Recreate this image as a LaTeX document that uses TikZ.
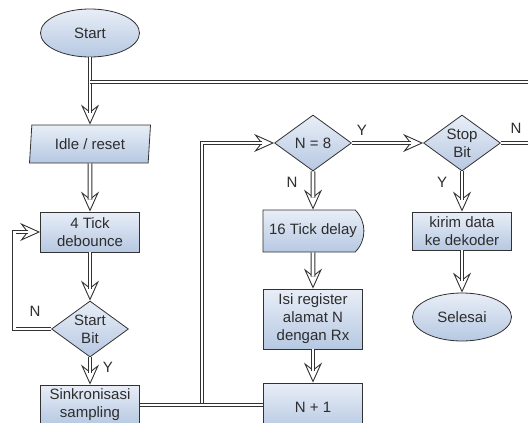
\documentclass[tikz,border=0pt]{standalone}
\usepackage{fontspec}
\setmainfont{Liberation Sans}
\usetikzlibrary{arrows.meta, shapes.geometric, shapes.misc}

\definecolor{boxtop}{RGB}{232,238,247}
\definecolor{boxbot}{RGB}{182,200,226}
\definecolor{edgegray}{RGB}{50,50,50}
\definecolor{textgray}{RGB}{45,45,45}

\tikzset{
  base/.style={draw=edgegray, line width=0.8pt, top color=boxtop, bottom color=boxbot,
    text=textgray, font=\fontsize{15}{18}\selectfont, align=center, inner sep=0pt},
  process/.style={base, rectangle, minimum width=99pt, minimum height=40pt},
  terminal/.style={base, ellipse, minimum width=99pt, minimum height=48pt},
  decision/.style={base, diamond, aspect=1.4, minimum width=77pt, minimum height=56pt},
  io/.style={base, trapezium, trapezium left angle=78, trapezium right angle=102,
    trapezium stretches body, minimum width=121pt, minimum height=38pt},
  delaybox/.style={base, rounded rectangle, rounded rectangle left arc=none,
    rounded rectangle arc length=90, minimum width=101pt, minimum height=42pt},
  flow/.style={draw=edgegray, double=white, double distance=2.8pt, line width=0.9pt},
  flowarrow/.style={draw=edgegray, line width=0.9pt,
    -{Stealth[open, fill=white, length=20pt, width=18pt, inset=7pt]},
    postaction={flow, -, shorten >=12pt}},
  lbl/.style={text=textgray, font=\fontsize{15}{18}\selectfont}
}

\begin{document}
\begin{tikzpicture}[x=1pt, y=-1pt]
  \useasboundingbox (0,0) rectangle (528,423);
  \clip (0,0) rectangle (528,423);

  % left column
  \node[terminal] (start) at (90,33) {Start};
  \node[io] (idle) at (90,144) {Idle / reset};
  \node[process] (tick) at (90,232) {4 Tick\\debounce};
  \node[decision] (sbit) at (90,329) {Start\\Bit};
  \node[process] (sync) at (90,405) {Sinkronisasi\\sampling};

  % middle column
  \node[decision] (neq) at (313,143) {N = 8};
  \node[delaybox] (delay) at (313,231) {16 Tick delay};
  \node[process, minimum height=60pt] (isi) at (313,319) {Isi register\\alamat N\\dengan Rx};
  \node[process, minimum height=48pt] (inc) at (313,407) {N + 1};

  % right column
  \node[decision] (stop) at (462,143) {Stop\\Bit};
  \node[process, minimum height=38pt] (kirim) at (462,231) {kirim data\\ke dekoder};
  \node[terminal] (done) at (462,317) {Selesai};

  \coordinate (topout) at (528,82);
  \coordinate (stopout) at (528,143);
  \coordinate (join) at (202,405);

  \draw[flowarrow] (start) -- (idle);
  \draw[flow] (start.south |- topout) -- (topout);
  \draw[flowarrow] (idle) -- (tick);
  \draw[flowarrow] (tick) -- (sbit);
  \draw[flowarrow] (sbit) -- (sync);
  \draw[flowarrow] (sbit.west) -- ++(-37,0) |- (tick.west);

  \draw[flowarrow] (join) |- (neq.west);
  \draw[flow] (sync.east) -- (sync.east -| inc.west);
  \draw[flowarrow] (neq) -- (delay);
  \draw[flowarrow] (delay) -- (isi);
  \draw[flowarrow] (isi) -- (inc);
  \draw[flowarrow] (neq.east) -- (stop.west);
  \draw[flow] (stop.east) -- (stopout);
  \draw[flowarrow] (stop) -- (kirim);
  \draw[flowarrow] (kirim) -- (done);

  % branch labels
  \node[lbl] (ly1) at (362,130) {Y};
  \node[lbl] (ln1) at (292,182) {N};
  \node[lbl] (ln2) at (516,128) {N};
  \node[lbl] (ly2) at (442,182) {Y};
  \node[lbl] (ln3) at (35,311) {N};
  \node[lbl] (ly3) at (108,367) {Y};
\end{tikzpicture}
\end{document}
